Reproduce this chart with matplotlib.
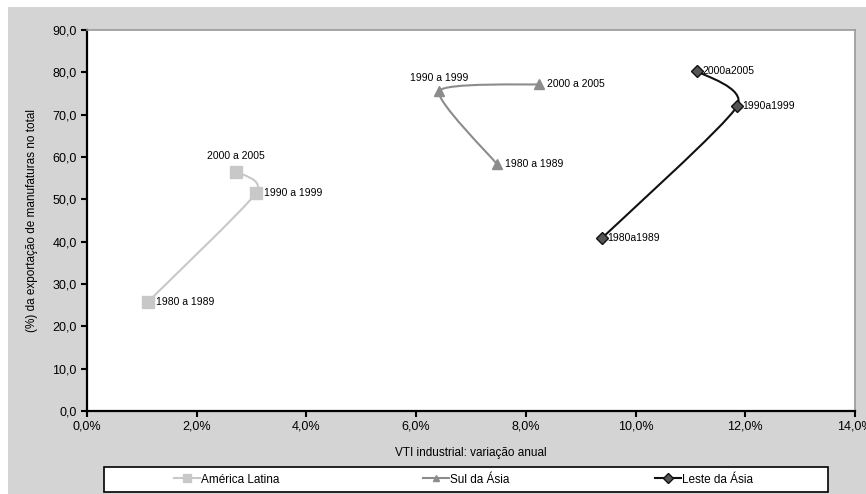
import matplotlib
matplotlib.use("Agg")
import matplotlib.pyplot as plt
from matplotlib.path import Path
from matplotlib.patches import PathPatch, Rectangle
from matplotlib.lines import Line2D
from matplotlib.ticker import FuncFormatter
import numpy as np

plt.rcParams['font.family'] = ['Liberation Sans', 'DejaVu Sans']

# periodos e valores (VTI % a.a., % manufaturas na exportacao)
periodos = ["1980 a 1989", "1990 a 1999", "2000 a 2005"]
periodos_leste = ["1980a1989", "1990a1999", "2000a2005"]

al_x = [1.11, 3.08, 2.72]
al_y = [25.8, 51.5, 56.5]

sul_x = [7.47, 6.42, 8.24]
sul_y = [58.4, 75.6, 77.2]

leste_x = [9.39, 11.85, 11.12]
leste_y = [40.9, 72.0, 80.3]

fig = plt.figure(figsize=(8.66, 4.94), dpi=100)
fig.patch.set_facecolor('white')
fig.patches.append(Rectangle((8 / 866, 0), 1, 1 - 7 / 494, transform=fig.transFigure,
                             facecolor='#d4d4d4', edgecolor='none', zorder=-1))

ax = fig.add_axes([0.1005, 0.168, 0.8868, 0.771])
ax.set_xlim(0, 14)
ax.set_ylim(0, 90)
ax.set_xticks(np.arange(0, 15, 2))
ax.set_yticks(np.arange(0, 91, 10))
ax.xaxis.set_major_formatter(FuncFormatter(lambda v, p: f"{v:.1f}%".replace('.', ',')))
ax.yaxis.set_major_formatter(FuncFormatter(lambda v, p: f"{v:.1f}".replace('.', ',')))
ax.tick_params(direction='out', length=4, width=1.5, labelsize=9, colors='black')
ax.tick_params(axis='x', pad=3)
for s in ['left', 'bottom']:
    ax.spines[s].set_linewidth(1.6)
    ax.spines[s].set_color('black')
for s in ['top', 'right']:
    ax.spines[s].set_linewidth(1.2)
    ax.spines[s].set_color('#9a9a9a')

ax.set_xlabel("VTI industrial: variação anual", fontsize=8.5, labelpad=10)
ax.set_ylabel("(%) da exportação de manufaturas no total", fontsize=8.5, labelpad=10)


def curva_suave(xs, ys, cor, lw):
    # curva de Bezier calculada em coordenadas de tela
    pts = ax.transData.transform(np.column_stack([xs, ys]))
    n = len(pts)
    verts = [pts[0]]
    codes = [Path.MOVETO]
    for i in range(n - 1):
        p0 = pts[max(i - 1, 0)]
        p1 = pts[i]
        p2 = pts[i + 1]
        p3 = pts[min(i + 2, n - 1)]
        c1 = p1 + (p2 - p0) / 9
        c2 = p2 - (p3 - p1) / 9
        verts += [c1, c2, p2]
        codes += [Path.CURVE4] * 3
    verts = ax.transData.inverted().transform(np.array(verts))
    ax.add_patch(PathPatch(Path(verts, codes), facecolor='none', edgecolor=cor, lw=lw, zorder=2))


curva_suave(al_x, al_y, '#c8c8c8', 1.5)
curva_suave(sul_x, sul_y, '#8c8c8c', 1.5)
curva_suave(leste_x, leste_y, '#111111', 1.5)

ax.plot(al_x, al_y, ls='none', marker='s', ms=9, color='#c8c8c8', mec='#c8c8c8', zorder=3)
ax.plot(sul_x, sul_y, ls='none', marker='^', ms=7, color='#8c8c8c', mec='#8c8c8c', zorder=3)
ax.plot(leste_x, leste_y, ls='none', marker='D', ms=6, color='#555555', mec='#111111', zorder=3)

fs = 7.5
# rotulos America Latina
ax.annotate(periodos[0], (al_x[0], al_y[0]), xytext=(6, 0), textcoords='offset points',
            va='center', fontsize=fs)
ax.annotate(periodos[1], (al_x[1], al_y[1]), xytext=(6, 0), textcoords='offset points',
            va='center', fontsize=fs)
ax.annotate(periodos[2], (al_x[2], al_y[2]), xytext=(0, 8), textcoords='offset points',
            ha='center', va='bottom', fontsize=fs)
# rotulos Sul da Asia
ax.annotate(periodos[0], (sul_x[0], sul_y[0]), xytext=(6, 0), textcoords='offset points',
            va='center', fontsize=fs)
ax.annotate(periodos[1], (sul_x[1], sul_y[1]), xytext=(0, 6), textcoords='offset points',
            ha='center', va='bottom', fontsize=fs)
ax.annotate(periodos[2], (sul_x[2], sul_y[2]), xytext=(6, 0), textcoords='offset points',
            va='center', fontsize=fs)
# rotulos Leste da Asia
for x, y, t in zip(leste_x, leste_y, periodos_leste):
    ax.annotate(t, (x, y), xytext=(4, 0), textcoords='offset points',
                va='center', fontsize=fs)

# caixa da legenda
fig.patches.append(Rectangle((104 / 866, 2 / 494), 724 / 866, 25 / 494, transform=fig.transFigure,
                             facecolor='white', edgecolor='black', lw=1.2, zorder=1))

entradas = [
    (Line2D([], [], color='#c8c8c8', marker='s', ms=6, lw=1.5), 'América Latina', 174),
    (Line2D([], [], color='#8c8c8c', marker='^', ms=5, lw=1.5), 'Sul da Ásia', 423),
    (Line2D([], [], color='#111111', marker='D', ms=5, mfc='#555555', lw=1.5), 'Leste da Ásia', 655),
]
for h, rotulo, px in entradas:
    fig.legend(handles=[h], labels=[rotulo], loc='center left',
               bbox_to_anchor=(px / 866, 14.5 / 494), frameon=False, fontsize=8.5,
               handlelength=2.2, handletextpad=0.1, borderaxespad=0, borderpad=0)

fig.savefig('out.png', dpi=100)
